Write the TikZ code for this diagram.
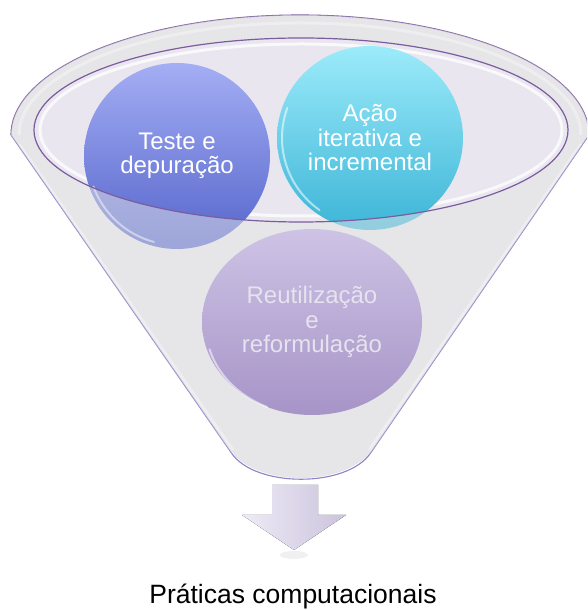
\documentclass[tikz,border=0pt]{standalone}
\usepackage{fontspec}
\setmainfont{Liberation Sans}
\usetikzlibrary{shapes.geometric}
\definecolor{rimpurple}{HTML}{7B5C9E}
\definecolor{sidepurple}{HTML}{9081C6}
\definecolor{funnelgray}{HTML}{E6E6E8}
\definecolor{innerfill}{HTML}{E9E6EF}
\definecolor{bluetop}{HTML}{A4AEF4}
\definecolor{bluebot}{HTML}{5565CB}
\definecolor{cyantop}{HTML}{9CEBFA}
\definecolor{cyanbot}{HTML}{3DB5D7}
\definecolor{purptop}{HTML}{CEC3E5}
\definecolor{purpbot}{HTML}{A694C7}
\definecolor{purptext}{HTML}{E6E2EE}
\definecolor{arrowl}{HTML}{EEEBF6}
\definecolor{arrowr}{HTML}{CBC3DD}
\begin{document}
\begin{tikzpicture}[x=1pt,y=1pt,
  bubble/.style={ellipse, inner sep=0pt, align=center, text=white,
    font=\fontsize{24}{24.5}\selectfont},
  shine/.style={white, opacity=.55, line width=2pt, line cap=round},
  band/.style={white, opacity=.75, line width=3pt}
]
\useasboundingbox (0,0) rectangle (587,610);
\clip (0,0) rectangle (587,610);
% funnel body
\fill[funnelgray] (11,475) arc[start angle=180,end angle=0,x radius=289,y radius=120]
  -- (374,162) .. controls (347,122) and (255,122) .. (228,162) -- cycle;
% highlight bands along rim and sides
\draw[band] (19,475) arc[start angle=180,end angle=0,x radius=281,y radius=112];
\draw[band] (19,466) -- (233,160);
\draw[band] (581,466) -- (369,160);
% outline
\draw[rimpurple, line width=1.1pt] (11,475) arc[start angle=180,end angle=0,x radius=289,y radius=120];
\draw[sidepurple, line width=1.1pt, rounded corners=6pt] (11,475) -- (228,162) .. controls (255,122) and (347,122) .. (374,162) -- (589,475);
% inner ellipse fill
\fill[innerfill] (301,480) ellipse[x radius=267, y radius=92];
\draw[band] (301,480) ellipse[x radius=261, y radius=86];
% upper circles
\node[bubble, minimum width=186pt, minimum height=186pt, top color=bluetop, bottom color=bluebot]
  (teste) at (177,454) {Teste e\\depuração};
\node[bubble, minimum width=186pt, minimum height=184pt, top color=cyantop, bottom color=cyanbot]
  (acao) at (370,472) {Ação\\iterativa e\\incremental};
\draw[shine] ([shift={(200:89)}]177,454) arc[start angle=200,end angle=255,radius=89];
\draw[shine] ([shift={(160:88)}]370,472) arc[start angle=160,end angle=235,radius=88];
% front of funnel fades the lower parts of the circles
\fill[funnelgray, opacity=.5, even odd rule] (11,475) arc[start angle=180,end angle=0,x radius=289,y radius=120]
  -- (374,162) .. controls (347,122) and (255,122) .. (228,162) -- cycle
  (301,480) ellipse[x radius=267, y radius=92];
% inner rim line
\draw[rimpurple, line width=1.2pt] (301,480) ellipse[x radius=267, y radius=92];
% lower circle
\node[bubble, text=purptext, minimum width=220pt, minimum height=186pt, top color=purptop, bottom color=purpbot]
  (reuso) at (312,288) {Reutilização\\e\\reformulação};
\draw[shine] ([shift={(195:106)}]312,288) arc[start angle=195,end angle=245,x radius=106,y radius=89];
% arrow
\fill[gray, opacity=.12] (294,55) ellipse[x radius=14, y radius=4];
\fill[left color=arrowl, right color=arrowr] (272,125) -- (318,125) -- (318,95) -- (346,95)
  -- (294,60) -- (242,95) -- (272,95) -- cycle;
\node[anchor=base, font=\fontsize{26.5}{30}\selectfont] (label) at (293,6) {Práticas computacionais};
\end{tikzpicture}
\end{document}
